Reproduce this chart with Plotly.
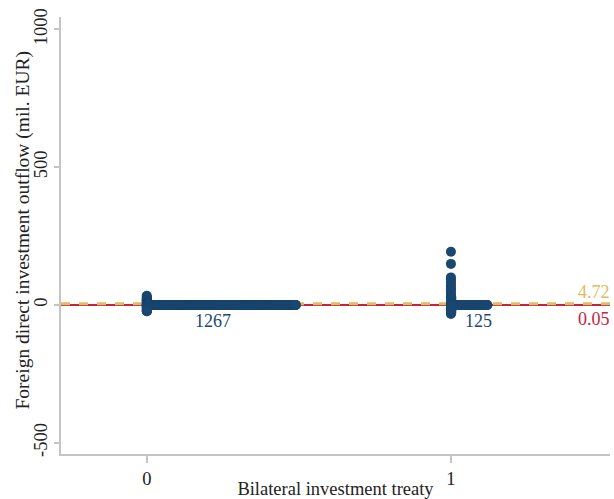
import plotly.graph_objects as go

# ---- data ----
groups = [0, 1]
group_ns = [1267, 125]

# distinct outflow values and how many observations share them
g0_values = [33, 29, 25, 21, 17, 13, 9, 5, 1, 0, -1, -5, -9, -13, -17, -21, -23]
g0_counts = [1, 1, 2, 2, 3, 3, 5, 6, 10, 1196, 10, 8, 6, 5, 4, 3, 2]

g1_values = [193, 149, 100, 92, 84, 76, 68, 60, 52, 44, 36, 28, 20, 12, 4, 0,
             -4, -12, -20, -28, -33]
g1_counts = [1, 1, 1, 1, 1, 1, 1, 1, 1, 1, 1, 2, 2, 2, 3, 94, 3, 3, 2, 2, 1]

y_ticks = [-500, 0, 500, 1000]
y_tick_labels = ["-500", "0", "500", "1000"]

mean_line = 4.72
median_line = 0.05

# ---- style ----
NAVY = "#1a476f"
YELLOW = "#dcbd63"
RED = "#c9213e"
AXIS = "#c4c4c4"
FONT = "Liberation Serif"
stack_widths = [0.49, 0.12]


def stacked(x0, values, counts, width):
    step = width / (max(counts) - 1)
    xs, ys = [], []
    for v, c in zip(values, counts):
        for k in range(c):
            xs.append(x0 + k * step)
            ys.append(v)
    return xs, ys


fig = go.Figure()

x_lo, x_hi = -0.282, 1.523

fig.add_trace(go.Scatter(x=[x_lo, x_hi], y=[median_line, median_line], mode="lines",
                         line=dict(color=RED, width=2), hoverinfo="skip", showlegend=False))
fig.add_trace(go.Scatter(x=[x_lo, x_hi], y=[mean_line, mean_line], mode="lines",
                         line=dict(color=YELLOW, width=3, dash="dash"), hoverinfo="skip",
                         showlegend=False))

for g, vals, cnts, w in [(groups[0], g0_values, g0_counts, stack_widths[0]),
                         (groups[1], g1_values, g1_counts, stack_widths[1])]:
    xs, ys = stacked(g, vals, cnts, w)
    fig.add_trace(go.Scatter(x=xs, y=ys, mode="markers",
                             marker=dict(color=NAVY, size=10, line=dict(width=0)),
                             showlegend=False))

annotations = []
for g, n, dx in [(groups[0], group_ns[0], 0.217), (groups[1], group_ns[1], 0.089)]:
    annotations.append(dict(x=g + dx, y=0, xref="x", yref="y", text=str(n),
                            showarrow=False, yanchor="top", yshift=-4,
                            font=dict(family=FONT, size=18, color=NAVY)))
annotations.append(dict(x=1, xref="paper", y=mean_line, yref="y", text=f"{mean_line:.2f}",
                        showarrow=False, xanchor="right", yanchor="bottom", yshift=0, xshift=2,
                        font=dict(family=FONT, size=18, color=YELLOW)))
annotations.append(dict(x=1, xref="paper", y=median_line, yref="y", text=f"{median_line:.2f}",
                        showarrow=False, xanchor="right", yanchor="top", yshift=-2, xshift=2,
                        font=dict(family=FONT, size=18, color=RED)))
# y-axis title placed as rotated text
annotations.append(dict(x=0, xref="paper", y=0.5, yref="paper", xshift=-39, yshift=5,
                        text="Foreign direct investment outflow (mil. EUR)", textangle=-90,
                        showarrow=False, xanchor="center", yanchor="middle",
                        font=dict(family=FONT, size=19.5, color="#222222")))

fig.update_layout(
    width=614, height=499,
    margin=dict(l=61, r=4, t=17, b=45),
    paper_bgcolor="white", plot_bgcolor="white",
    font=dict(family=FONT, size=18, color="#222222"),
    annotations=annotations,
    xaxis=dict(range=[x_lo, x_hi], tickvals=groups, ticktext=[str(g) for g in groups],
               automargin=False,
               showgrid=False, zeroline=False, showline=True, linecolor=AXIS, linewidth=1.5,
               ticks="outside", ticklen=7, tickcolor=AXIS, tickwidth=1.5,
               tickfont=dict(size=18.5),
               title=dict(text="Bilateral investment treaty", standoff=2,
                          font=dict(size=18.5))),
    yaxis=dict(range=[-541, 1045], tickvals=y_ticks, ticktext=y_tick_labels, tickangle=-90,
               automargin=False,
               showgrid=False, zeroline=False, showline=True, linecolor=AXIS, linewidth=1.5,
               ticks="outside", ticklen=5, tickcolor=AXIS, tickwidth=1.5,
               tickfont=dict(size=18.5)),
)

fig.write_html("out.html", config={"displayModeBar": False},
               post_script="document.body.style.margin='0';")
